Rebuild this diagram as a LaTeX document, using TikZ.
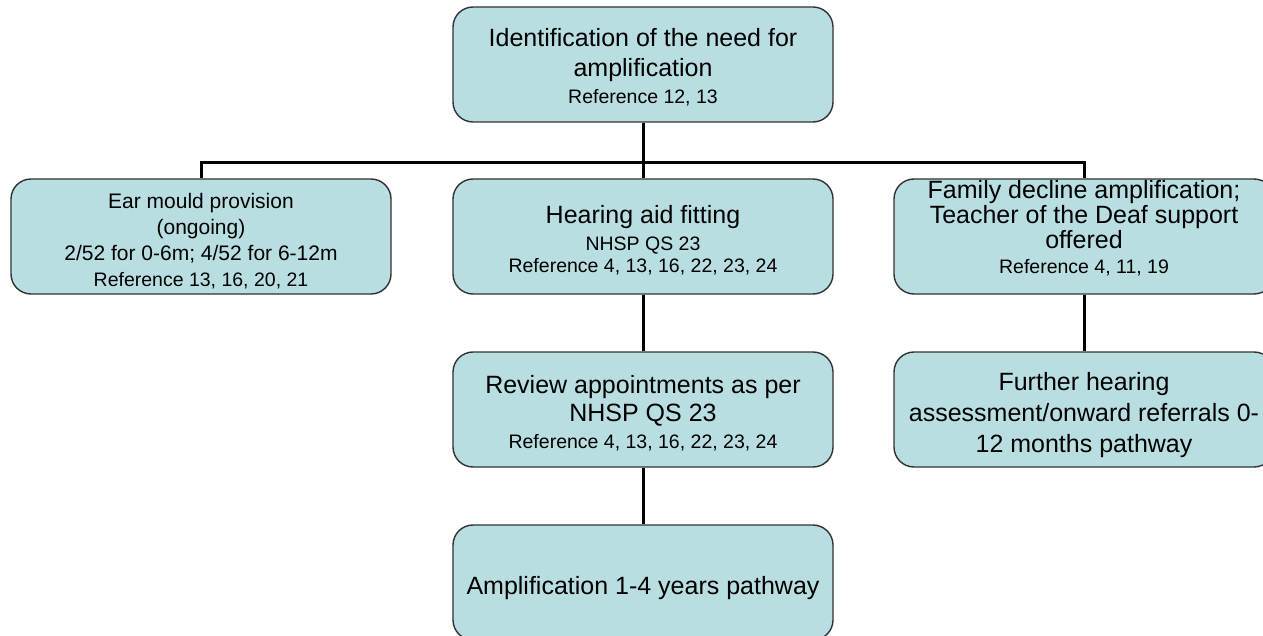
\documentclass[tikz,border=0pt]{standalone}
\usepackage{fontspec}
\setmainfont{Liberation Sans}
\definecolor{boxfill}{RGB}{184,222,226}
\definecolor{boxline}{RGB}{50,50,50}
\newcommand{\fbig}{\fontsize{25}{30}\selectfont}
\newcommand{\fmed}{\fontsize{21}{26.3}\selectfont}
\newcommand{\fref}{\fontsize{19.5}{22}\selectfont}
% invisible strut that pushes a text block down inside its box
\newcommand{\topstrut}[1]{\rule{0pt}{#1}}
\begin{document}
\begin{tikzpicture}[x=1pt,y=-1pt,
  stagebox/.style={draw=boxline, line width=1.4pt, fill=boxfill,
    rounded corners=20pt, minimum width=380pt, minimum height=115pt,
    align=center, inner sep=0pt},
  link/.style={draw=black, line width=3pt}]
\useasboundingbox (0,0) rectangle (1263,636);
\clip (0,0) rectangle (1263,636);

% top of the tree
\node[stagebox, font=\fbig] (need) at (643,64.5)
  {\topstrut{24.5pt}Identification of the need for\\amplification\\[-3pt]{\fref Reference 12, 13}};

% first row
\node[stagebox, font=\fmed] (mould) at (201,236.5)
  {\topstrut{24.5pt}Ear mould provision\\(ongoing)\\2/52 for 0-6m; 4/52 for 6-12m\\{\fref Reference 13, 16, 20, 21}};
\node[stagebox, font=\fbig] (fitting) at (643,236.5)
  {\topstrut{25.5pt}Hearing aid fitting\\[-3pt]{\fref NHSP QS 23}\\[-8pt]{\fref Reference 4, 13, 16, 22, 23, 24}};
\node[stagebox, font=\fontsize{25}{25}\selectfont] (decline) at (1084,236.5)
  {Family decline amplification;\\Teacher of the Deaf support\\offered\\{\fref Reference 4, 11, 19\rule[-20pt]{0pt}{0pt}}};

% second row
\node[stagebox, font=\fbig] (review) at (643,409.5)
  {\topstrut{26.3pt}Review appointments as per\\[-2pt]NHSP QS 23\\[-3pt]{\fref Reference 4, 13, 16, 22, 23, 24}};
\node[stagebox, font=\fontsize{25}{31}\selectfont] (further) at (1084,409.5)
  {\topstrut{28.3pt}Further hearing\\assessment/onward referrals 0-\\12 months pathway};

% last stage
\node[stagebox, font=\fbig] (years) at (643,582.5)
  {\topstrut{28.3pt}Amplification 1-4 years pathway};

% connectors
\coordinate (bus) at (643,163);
\draw[link] (need.south) -- (fitting.north);
\draw[link] (mould.north) |- (bus) -| (decline.north);
\draw[link] (fitting.south) -- (review.north);
\draw[link] (review.south) -- (years.north);
\draw[link] (decline.south) -- (further.north);
\end{tikzpicture}
\end{document}
